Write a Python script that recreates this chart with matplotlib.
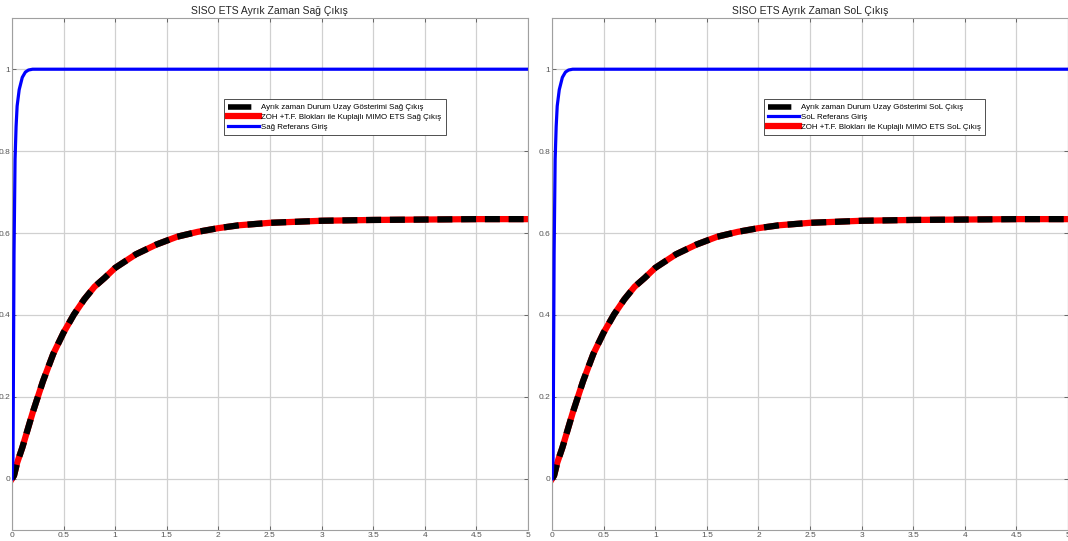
import matplotlib.pyplot as plt
from matplotlib.lines import Line2D
import numpy as np

plt.rcParams['font.family'] = ['Liberation Sans', 'DejaVu Sans']

# step responses (same for both outputs)
t_out = [0, 0.02, 0.05, 0.1, 0.2, 0.3, 0.4, 0.5, 0.6, 0.7, 0.8, 0.9, 1.0,
         1.2, 1.4, 1.6, 1.8, 2.0, 2.2, 2.5, 3.0, 3.5, 4.0, 4.5, 5.0]
y_out = [0, 0.008, 0.039, 0.076, 0.161, 0.238, 0.305, 0.357, 0.401, 0.438,
         0.469, 0.491, 0.515, 0.548, 0.572, 0.591, 0.603, 0.612, 0.619,
         0.625, 0.630, 0.632, 0.633, 0.634, 0.634]

# reference input (filtered step)
t_ref = [0, 0.01, 0.015, 0.02, 0.03, 0.04, 0.05, 0.07, 0.1, 0.13, 0.16, 0.2, 5.0]
y_ref = [0, 0.05, 0.3, 0.55, 0.78, 0.86, 0.91, 0.95, 0.98, 0.993, 0.998, 1.0, 1.0]

titles = ['SISO ETS Ayrık Zaman Sağ Çıkış', 'SISO ETS Ayrık Zaman SoL Çıkış']
side = ['Sağ', 'SoL']

fig = plt.figure(figsize=(10.68, 5.41), dpi=100)
positions = [[0.0112, 0.0203, 0.4831, 0.9464], [0.5169, 0.0203, 0.4831, 0.9464]]

for i in range(2):
    ax = fig.add_axes(positions[i])
    s = side[i]
    red, = ax.plot(t_out, y_out, color='red', lw=4.5, zorder=2,
                   label='ZOH +T.F. Blokları ile Kuplajlı MIMO ETS ' + s + ' Çıkış')
    ax.plot(t_out, y_out, color='black', lw=4.5, dashes=(2.4, 1.4), zorder=3)
    blue, = ax.plot(t_ref, y_ref, color='blue', lw=2.3, zorder=4,
                    label=s + ' Referans Giriş')
    # legend proxy: first dash only, as in the reference legend
    black = Line2D([], [], color='black', lw=4.0, dashes=(4.2, 3),
                   label='Ayrık zaman Durum Uzay Gösterimi ' + s + ' Çıkış')
    ax.set_xlim(0, 5)
    ax.set_ylim(-0.125, 1.125)
    ax.set_xticks(np.arange(0, 5.01, 0.5))
    ax.set_xticklabels(['0', '0.5', '1', '1.5', '2', '2.5', '3', '3.5', '4', '4.5', '5'])
    ax.set_yticks([0, 0.2, 0.4, 0.6, 0.8, 1])
    ax.set_yticklabels(['0', '0.2', '0.4', '0.6', '0.8', '1'])
    ax.tick_params(direction='in', top=True, right=True, labelsize=6,
                   colors='#555555', length=3, width=0.6, pad=1.2)
    ax.grid(True, color='#d0d0d0', lw=0.9)
    ax.set_axisbelow(True)
    for sp in ax.spines.values():
        sp.set_color('#a0a0a0')
        sp.set_linewidth(0.8)
    ax.set_title(titles[i], fontsize=7.5, color='#262626', pad=3)
    if i == 0:
        handles = [black, red, blue]
    else:
        handles = [black, blue, red]
    leg = ax.legend(handles=handles, loc='upper left', bbox_to_anchor=(0.41, 0.841),
                    fontsize=5.7, fancybox=False, framealpha=1, edgecolor='#333333',
                    handlelength=3.9, handletextpad=0.3, borderpad=0.55,
                    labelspacing=0.28, borderaxespad=0)
    leg.get_frame().set_linewidth(0.6)

fig.savefig('out.png', dpi=100)
